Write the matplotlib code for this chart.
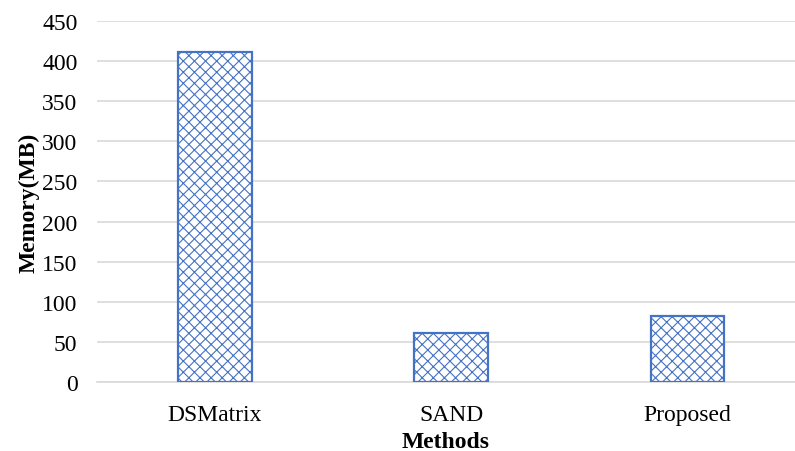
import matplotlib
matplotlib.use("Agg")
import matplotlib.pyplot as plt

methods = ["DSMatrix", "SAND", "Proposed"]
memory_mb = [411, 61, 82]
yticks = [0, 50, 100, 150, 200, 250, 300, 350, 400, 450]

plt.rcParams['font.family'] = ['Liberation Serif', 'DejaVu Serif']
plt.rcParams['hatch.linewidth'] = 0.8
plt.rcParams['hatch.color'] = '#4472C4'

fig = plt.figure(figsize=(7.95, 4.52), dpi=100)
ax = fig.add_axes([97/795, 69/452, 698/795, 361/452])

x = list(range(len(methods)))
ax.bar(x, memory_mb, width=0.31, color='white', edgecolor='#4472C4',
       linewidth=1.6, hatch='xxx', zorder=3)

ax.set_xlim(-0.5, 2.457)
ax.set_ylim(0, 450)
ax.set_yticks(yticks)
ax.set_xticks(x)
ax.set_xticklabels(methods)
ax.tick_params(axis='both', length=0, labelsize=17, colors='black')
ax.tick_params(axis='y', pad=14)
ax.tick_params(axis='x', pad=16)

ax.grid(axis='y', color='#d9d9d9', linewidth=1.2, zorder=0)
for side in ['top', 'right', 'left']:
    ax.spines[side].set_visible(False)
ax.spines['bottom'].set_color('#d9d9d9')
ax.spines['bottom'].set_linewidth(1.2)

ax.set_xlabel('Methods', fontsize=17, fontweight='bold', labelpad=4)
ax.set_ylabel('Memory(MB)', fontsize=17, fontweight='bold')
ax.yaxis.set_label_coords(-0.082, 0.5)

fig.savefig('out.png', dpi=100)
